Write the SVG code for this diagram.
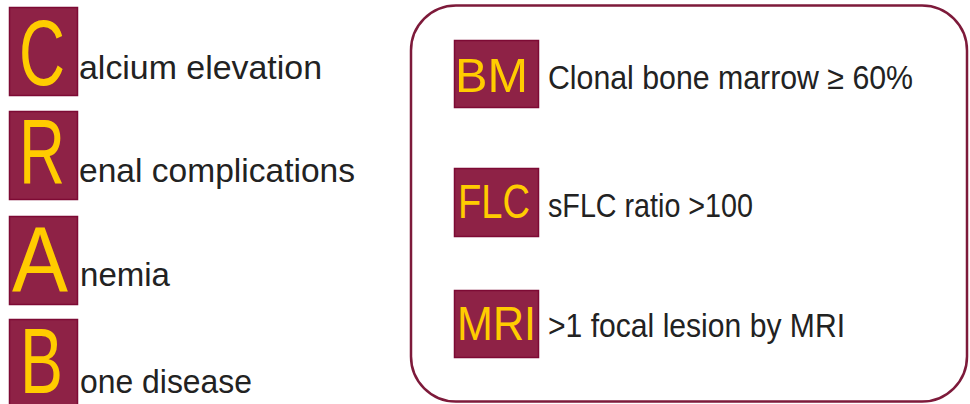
<svg xmlns="http://www.w3.org/2000/svg" width="970" height="404" viewBox="0 0 970 404">
<style>
.box{fill:#8e2246;stroke:#7d0a34;stroke-width:1.5}
.big{font-family:"Liberation Sans",Arial,sans-serif;fill:#ffcc00;font-size:92px}
.abbr{font-family:"Liberation Sans",Arial,sans-serif;fill:#ffcc00;font-size:48px}
.t{font-family:"Liberation Sans",Arial,sans-serif;fill:#222;font-size:34px}
.r{font-family:"Liberation Sans",Arial,sans-serif;fill:#222;font-size:33px}
.frame{fill:none;stroke:#7d1a3a;stroke-width:2.5}
</style>
<rect width="970" height="404" fill="#fff"/>
<g id="crab-c">
<rect class="box" x="9.5" y="7.5" width="68" height="88"/>
<text class="big" x="19" y="85" textLength="46" lengthAdjust="spacingAndGlyphs">C</text>
<text class="t" x="79" y="79" textLength="243" lengthAdjust="spacingAndGlyphs">alcium elevation</text>
</g>
<g id="crab-r">
<rect class="box" x="9.5" y="111.5" width="68" height="88"/>
<text class="big" x="19" y="184" textLength="46" lengthAdjust="spacingAndGlyphs">R</text>
<text class="t" x="79" y="182" textLength="276" lengthAdjust="spacingAndGlyphs">enal complications</text>
</g>
<g id="crab-a">
<rect class="box" x="9.5" y="216.5" width="68" height="88"/>
<text class="big" x="12" y="292" textLength="56" lengthAdjust="spacingAndGlyphs">A</text>
<text class="t" x="80" y="286" textLength="90" lengthAdjust="spacingAndGlyphs">nemia</text>
</g>
<g id="crab-b">
<rect class="box" x="9.5" y="319.5" width="68" height="90"/>
<text class="big" x="20" y="393" textLength="43" lengthAdjust="spacingAndGlyphs">B</text>
<text class="t" x="80" y="393" textLength="172" lengthAdjust="spacingAndGlyphs">one disease</text>
</g>
<g id="slim-frame">
<rect class="frame" x="411" y="5.5" width="556" height="396" rx="45" ry="45"/>
</g>
<g id="bm">
<rect class="box" x="454.5" y="40.5" width="84" height="67"/>
<text class="abbr" x="455" y="92" textLength="73" lengthAdjust="spacingAndGlyphs">BM</text>
<text class="r" x="548" y="89" textLength="365" lengthAdjust="spacingAndGlyphs">Clonal bone marrow ≥ 60%</text>
</g>
<g id="flc">
<rect class="box" x="454.5" y="168.5" width="84" height="68"/>
<text class="abbr" x="458" y="218" textLength="72" lengthAdjust="spacingAndGlyphs">FLC</text>
<text class="r" x="548" y="217" textLength="205" lengthAdjust="spacingAndGlyphs">sFLC ratio &gt;100</text>
</g>
<g id="mri">
<rect class="box" x="454.5" y="290.5" width="84" height="67"/>
<text class="abbr" x="457" y="340" textLength="79" lengthAdjust="spacingAndGlyphs">MRI</text>
<text class="r" x="548" y="337" textLength="297" lengthAdjust="spacingAndGlyphs">&gt;1 focal lesion by MRI</text>
</g>
</svg>
